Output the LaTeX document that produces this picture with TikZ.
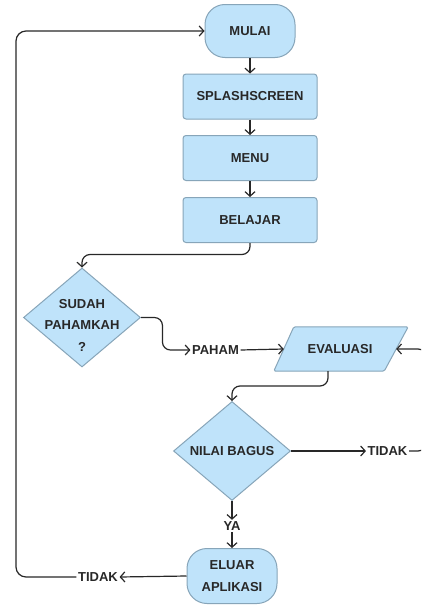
\documentclass[tikz,border=0pt]{standalone}
\usepackage{fontspec}
\setmainfont{Liberation Sans}
\usetikzlibrary{arrows.meta,shapes.geometric,calc,backgrounds}
\definecolor{boxfill}{RGB}{191,227,250}
\definecolor{boxline}{RGB}{135,165,185}
\definecolor{ink}{RGB}{40,40,40}
\tikzset{
  txt/.style={font=\bfseries\fontsize{13}{21.5}\selectfont, text=ink, align=center},
  base/.style={txt, draw=boxline, fill=boxfill, line width=1pt},
  term/.style={base, rectangle, rounded corners=20pt, minimum width=90pt, minimum height=53pt, inner sep=0pt},
  proc/.style={base, rectangle, rounded corners=3pt, minimum width=134pt, minimum height=45pt, inner sep=0pt},
  dec/.style={base, diamond, minimum width=117pt, minimum height=99pt, inner sep=0pt},
  iobox/.style={txt, rectangle, minimum width=112pt, minimum height=44pt, inner sep=0pt},
  ioshape/.style={draw=boxline, fill=boxfill, line width=1pt, rounded corners=1.5pt},
  lbl/.style={txt, inner sep=1.5pt},
  arr/.style={draw=ink, line width=1.2pt, -{Straight Barb[length=4.5pt,width=10pt]}},
}
\begin{document}
\begin{tikzpicture}[x=1pt,y=-1pt]
\clip (0,0) rectangle (421,605);
\useasboundingbox (0,0) rectangle (421,605);

\node[term] (mulai) at (250,31) {MULAI};
\node[proc] (splash) at (250,96.5) {SPLASHSCREEN};
\node[proc] (menu) at (250,158) {MENU};
\node[proc] (belajar) at (250,220) {BELAJAR};
\node[dec] (sudah) at (82,317.5) {};
\node[txt] (sudahtxt) at (82,325) {SUDAH\\PAHAMKAH\\?};
\node[lbl] (paham) at (215.5,350) {PAHAM};
\node[iobox] (evaluasi) at (340,349) {EVALUASI};
\node[dec] (nilai) at (232,451) {NILAI BAGUS};
\node[lbl] (tidaka) at (387.5,451) {TIDAK};
\node[lbl] (ya) at (232,526) {YA};
\node[term, minimum height=55pt] (eluar) at (232,576) {ELUAR\\APLIKASI};
\node[lbl] (tidakb) at (98,577) {TIDAK};

\begin{scope}[on background layer]
\fill[white] (0,0) rectangle (421,605);
\draw[ioshape] ($(evaluasi.south west)+(-10,0)$) -- ($(evaluasi.south east)+(-12,0)$)
  -- ($(evaluasi.north east)+(12,0)$) -- ($(evaluasi.north west)+(10,0)$) -- cycle;
\end{scope}

\coordinate (loop) at (16,31);
\coordinate (rightloop) at (428,451);

\draw[arr] (mulai) -- (splash);
\draw[arr] (splash) -- (menu);
\draw[arr] (menu) -- (belajar);
\draw[arr, rounded corners=8pt] (belajar.south) |- ($(sudah.north)+(0,-13)$) -- (sudah.north);
\draw[arr, rounded corners=8pt] (sudah.east) -| ($(paham.west)+(-28,0)$) -- (paham.west);
\draw[arr] (paham.east) -- (evaluasi.west);
\draw[arr, rounded corners=8pt] ($(evaluasi.south)+(-12,0)$) |- ($(nilai.north)+(0,-15)$) -- (nilai.north);
\draw[arr] (nilai.east) -- (tidaka.west);
\draw[arr, rounded corners=10pt] (tidaka.east) -- (rightloop) |- (evaluasi.east);
\draw[arr] (nilai.south) -- (ya.north);
\draw[arr] (ya.south) -- (eluar.north);
\draw[arr] (eluar.west) -- (tidakb.east);
\draw[arr, rounded corners=10pt] (tidakb.west) -| (loop) -- (mulai.west);
\end{tikzpicture}
\end{document}
